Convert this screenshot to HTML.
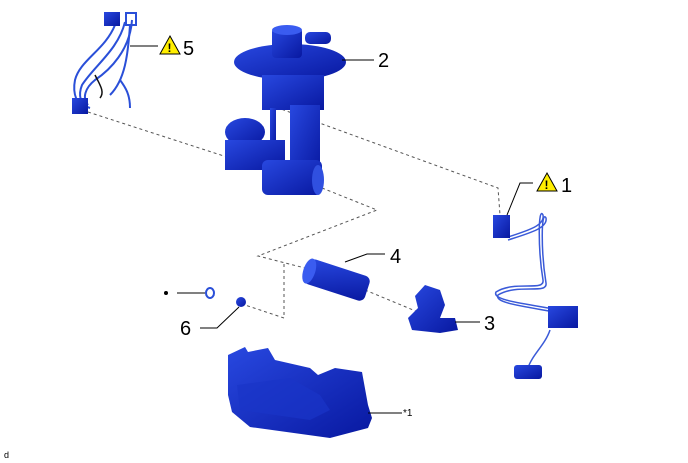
<!DOCTYPE html>
<html><head><style>
html,body{margin:0;padding:0;background:#fff;}
svg{display:block;}
text{font-family:"Liberation Sans",sans-serif;fill:#000;}
</style></head><body>
<svg width="688" height="463" viewBox="0 0 688 463" xmlns="http://www.w3.org/2000/svg">
<defs>
<linearGradient id="b" x1="0" y1="0" x2="1" y2="1"><stop offset="0" stop-color="#2848e0"/><stop offset="1" stop-color="#0818a0"/></linearGradient>
</defs>
<g fill="none" stroke="#555" stroke-width="1" stroke-dasharray="3,3">
<polyline points="88,112 230,158"/>
<polyline points="268,88 270,105 498,188 500,215"/>
<polyline points="322,188 377,210 258,256 305,268"/>
<polyline points="284,264 284,318 245,305"/>
<polyline points="365,290 418,312"/>
</g>
<!-- harness 5 -->
<g fill="none" stroke="#2a4fd8" stroke-width="2">
<path d="M115,25 C105,50 80,60 75,80 C72,95 78,105 85,110"/>
<path d="M125,22 C118,50 95,65 82,85 C78,95 80,105 90,108"/>
<path d="M132,20 C130,50 110,70 95,80 C85,88 82,98 88,105"/>
<path d="M130,25 C128,55 125,80 110,95"/>
<path d="M120,80 C126,88 130,95 130,108"/>
</g>
<path d="M95,75 C100,85 105,92 100,98" stroke="#111" stroke-width="1.5" fill="none"/>
<rect x="104" y="12" width="16" height="14" fill="url(#b)"/>
<rect x="126" y="13" width="10" height="12" fill="none" stroke="#2a4fd8" stroke-width="2"/>
<rect x="72" y="98" width="16" height="16" fill="url(#b)"/>
<line x1="130" y1="46" x2="158" y2="46" stroke="#000"/>
<polygon points="170,36 180,54 160,54" fill="#ffee00" stroke="#000"/>
<text x="167.5" y="52" font-size="12" font-weight="bold">!</text>
<text x="183" y="55" font-size="20">5</text>
<!-- pump 2 -->
<ellipse cx="290" cy="62" rx="56" ry="18" fill="url(#b)"/>
<rect x="272" y="28" width="30" height="30" rx="4" fill="url(#b)"/>
<ellipse cx="287" cy="30" rx="15" ry="5" fill="#3a5cf0"/>
<rect x="305" y="32" width="26" height="12" rx="5" fill="url(#b)"/>
<rect x="262" y="75" width="62" height="35" fill="url(#b)"/>
<rect x="290" y="105" width="30" height="70" fill="url(#b)"/>
<rect x="270" y="108" width="6" height="40" fill="url(#b)"/>
<ellipse cx="245" cy="132" rx="20" ry="14" fill="url(#b)"/>
<rect x="225" y="140" width="60" height="30" fill="url(#b)"/>
<rect x="262" y="160" width="60" height="35" rx="6" fill="url(#b)"/>
<ellipse cx="318" cy="180" rx="6" ry="15" fill="#3050e0"/>
<line x1="342" y1="60" x2="374" y2="60" stroke="#000"/>
<text x="378" y="67" font-size="20">2</text>
<!-- sender 1 -->
<g fill="none" stroke="#3a5ad8" stroke-width="1.5">
<path d="M508,237 C530,230 545,225 543,215 C538,205 538,250 543,280 C545,292 515,280 496,292 C492,300 520,303 560,310"/>
<path d="M508,240 C530,233 548,228 546,218 C541,209 541,252 546,283 C548,295 518,283 498,295 C494,303 522,306 560,313"/>
<path d="M550,330 C545,345 532,355 528,368"/>
</g>
<rect x="493" y="215" width="17" height="23" fill="url(#b)"/>
<rect x="548" y="306" width="30" height="22" fill="url(#b)"/>
<rect x="514" y="365" width="28" height="14" rx="3" fill="url(#b)"/>
<polyline points="507,215 520,183 533,183" fill="none" stroke="#000"/>
<polygon points="547,173 557,191 537,191" fill="#ffee00" stroke="#000"/>
<text x="544.5" y="189" font-size="12" font-weight="bold">!</text>
<text x="561" y="192" font-size="20">1</text>
<!-- motor 4 -->
<g transform="rotate(18 340 280)">
<rect x="305" y="268" width="64" height="26" rx="6" fill="url(#b)"/>
<ellipse cx="308" cy="281" rx="6" ry="13" fill="#3a5cf0"/>
</g>
<polyline points="345,262 367,254 385,254" fill="none" stroke="#000"/>
<text x="390" y="263" font-size="20">4</text>
<!-- bracket 3 -->
<path d="M425,285 L440,290 L445,305 L440,318 L455,318 L458,330 L440,333 L412,330 L408,318 L418,308 L415,296 Z" fill="url(#b)"/>
<line x1="455" y1="322" x2="480" y2="322" stroke="#000"/>
<text x="484" y="330" font-size="20">3</text>
<!-- small parts -->
<circle cx="166" cy="293" r="2" fill="#000"/>
<line x1="177" y1="293" x2="205" y2="293" stroke="#000"/>
<ellipse cx="210" cy="293" rx="4" ry="5" fill="none" stroke="#2a4fd8" stroke-width="2"/>
<circle cx="241" cy="302" r="5" fill="url(#b)"/>
<polyline points="239,307 217,328 200,328" fill="none" stroke="#000"/>
<text x="180" y="335" font-size="20">6</text>
<!-- housing *1 -->
<path d="M228,355 L245,347 L248,352 L268,348 L275,360 L310,368 L318,375 L335,368 L362,372 L368,405 L372,418 L368,428 L330,438 L250,427 L232,412 L228,395 Z" fill="url(#b)"/>
<path d="M237,385 L290,378 L320,395 L330,410 L310,420 L240,410 Z" fill="#1a34c8" opacity="0.7"/>
<line x1="368" y1="413" x2="402" y2="413" stroke="#000"/>
<text x="403" y="416" font-size="10">*1</text>
<text x="4" y="458" font-size="9">d</text>
</svg>
</body></html>
